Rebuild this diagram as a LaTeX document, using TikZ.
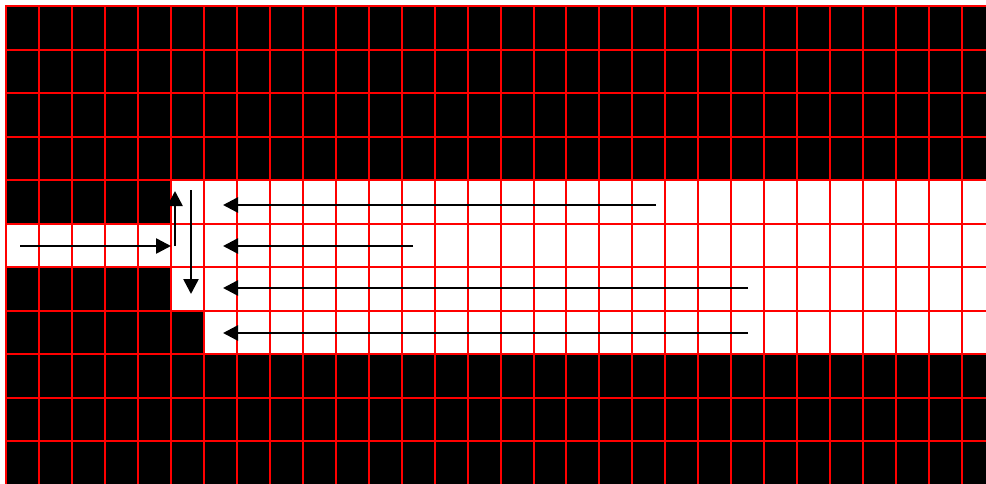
\documentclass[tikz,border=0pt]{standalone}
\usetikzlibrary{arrows.meta}
\begin{document}
\begin{tikzpicture}[x=1pt,y=-1pt,
  gridline/.style={draw=red,line width=2.6pt},
  flow/.style={draw=black,line width=2.6pt,-{Triangle[length=15pt,width=15pt]}}]
\useasboundingbox (0,0) rectangle (986,483);
\fill[white] (0,0) rectangle (986,483);
\begin{scope}
\clip (0,0) rectangle (986,483);
% black background of the grid
\fill[black] (6,6) rectangle (1000,500);
% white channel
\fill[white] (171,180) rectangle (1000,224);
\fill[white] (6,224) rectangle (1000,267);
\fill[white] (171,267) rectangle (1000,311);
\fill[white] (204,311) rectangle (1000,354);
% red grid
\foreach \c in {0,...,30} \draw[gridline] ({round(6+\c*32.97)},5) -- ({round(6+\c*32.97)},500);
\foreach \r in {0,...,11} \draw[gridline] (5,{round(6+\r*43.5)}) -- (1000,{round(6+\r*43.5)});
\end{scope}
% arrows
\coordinate (inS) at (20,246);
\coordinate (inE) at (171,246);
\coordinate (upS) at (175,246);
\coordinate (upE) at (175,191);
\coordinate (dnS) at (191,190);
\coordinate (dnE) at (191,294);
\coordinate (r4S) at (656,205);
\coordinate (r4E) at (223,205);
\coordinate (r5S) at (413,246);
\coordinate (r5E) at (223,246);
\coordinate (r6S) at (748,288);
\coordinate (r6E) at (223,288);
\coordinate (r7S) at (748,333);
\coordinate (r7E) at (223,333);
\draw[flow] (inS) -- (inE);
\draw[flow] (upS) -- (upE);
\draw[flow] (dnS) -- (dnE);
\draw[flow] (r4S) -- (r4E);
\draw[flow] (r5S) -- (r5E);
\draw[flow] (r6S) -- (r6E);
\draw[flow] (r7S) -- (r7E);
\end{tikzpicture}
\end{document}
